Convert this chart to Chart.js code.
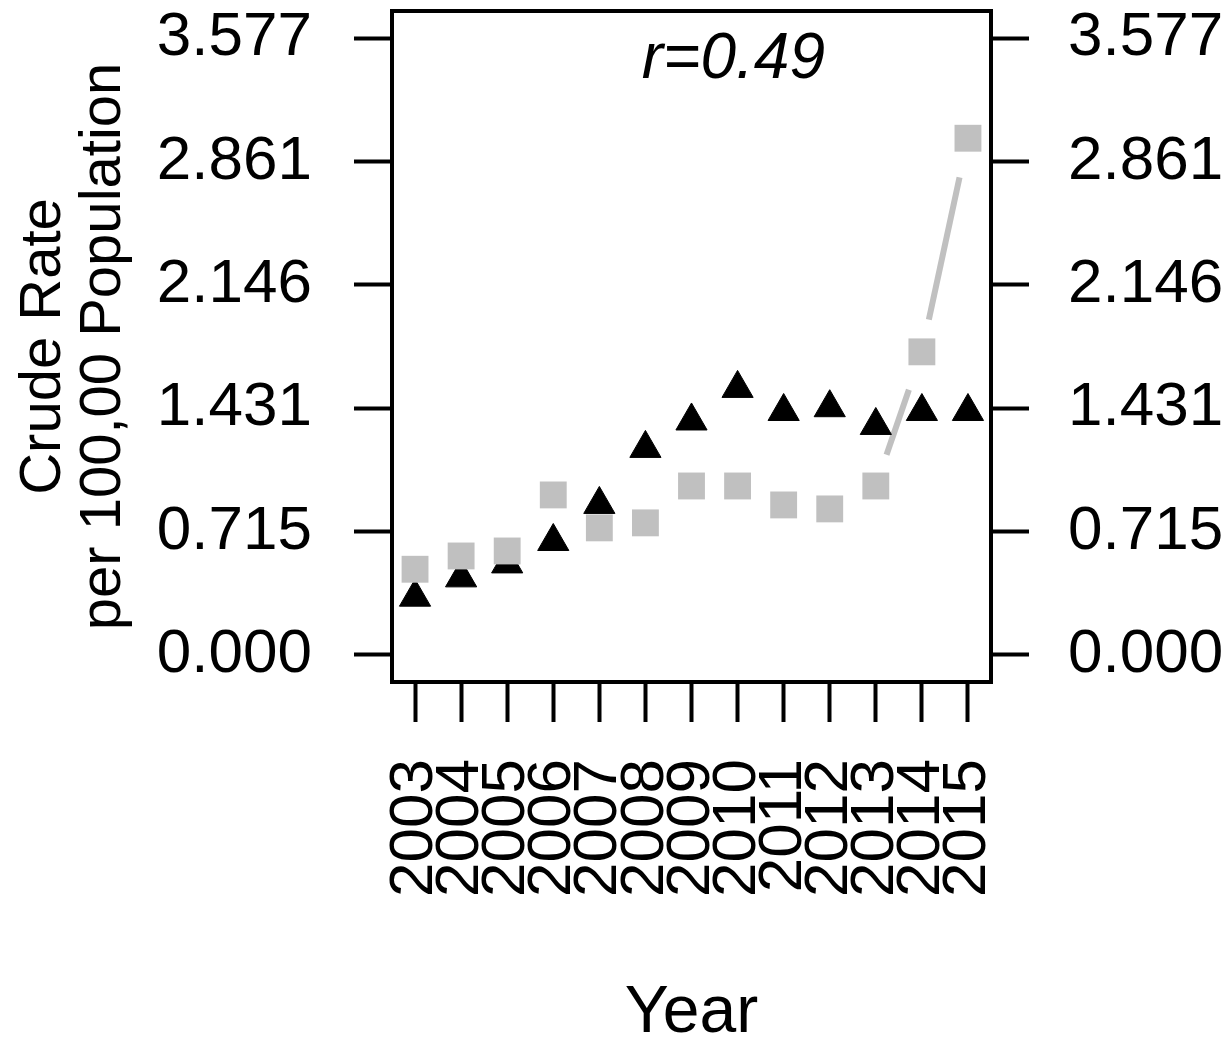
<!DOCTYPE html>
<html>
<head>
<meta charset="utf-8">
<title>Crude Rate by Year</title>
<script src="https://cdn.jsdelivr.net/npm/chart.js@4.4.1/dist/chart.umd.min.js"></script>
<style>
    html, body { margin: 0; padding: 0; background: #fff; }
    .wrap { width: 1232px; height: 1041px; position: relative; }
</style>
</head>
<body>
<div class="wrap">
    <canvas id="rate_chart"></canvas>
</div>
<script>
// years along the bottom axis
const years = ['2003', '2004', '2005', '2006', '2007', '2008', '2009',
               '2010', '2011', '2012', '2013', '2014', '2015'];

// black triangles
const triangleRates = [0.335, 0.447, 0.528, 0.658, 0.873, 1.198, 1.357,
                       1.546, 1.412, 1.434, 1.331, 1.412, 1.412];

// grey squares
const squareRates = [0.497, 0.574, 0.603, 0.928, 0.737, 0.766, 0.980,
                     0.980, 0.870, 0.847, 0.980, 1.758, 2.997];

// the grey line only joins the last few squares
const trendStart = 10;

const yTicks = [0, 0.715, 1.431, 2.146, 2.861, 3.577];
const yMin = -0.157;
const yMax = 3.735;

const corrLabel = 'r=0.49';

const FONT = '"Liberation Sans", Arial, sans-serif';
Chart.defaults.font.family = FONT;
Chart.defaults.color = '#000';

const trendRates = squareRates.map((v, i) => (i >= trendStart ? v : null));

// segments of the grey line stop short of the squares
const gapStart = 33;
const gapEnd = 40;
function segLength(c) {
    return Math.hypot(c.p1.x - c.p0.x, c.p1.y - c.p0.y);
}

// box round the plot + the correlation text
const framePlugin = {
    id: 'frame',
    afterDraw(chart) {
        const {ctx, chartArea: a} = chart;
        ctx.save();
        ctx.strokeStyle = '#000';
        ctx.lineWidth = 4;
        ctx.strokeRect(a.left, a.top, a.right - a.left, a.bottom - a.top);
        ctx.fillStyle = '#000';
        ctx.font = 'italic 64px ' + FONT;
        ctx.textAlign = 'center';
        ctx.textBaseline = 'alphabetic';
        ctx.fillText(corrLabel, a.left + (a.right - a.left) * 0.57, a.top + 67);
        ctx.restore();
    }
};

function yAxis(position, width, padding, showTitle) {
    return {
        type: 'linear',
        position: position,
        min: yMin,
        max: yMax,
        afterBuildTicks: (scale) => {
            scale.ticks = yTicks.map(v => ({value: v}));
        },
        afterFit: (scale) => {
            scale.width = width;
            // tick labels sit well inside the plot, no extra room needed
            scale.paddingTop = 0;
            scale.paddingBottom = 0;
        },
        ticks: {
            padding: padding,
            font: {size: 62, lineHeight: 1},
            color: '#000',
            callback: (v) => Number(v).toFixed(3)
        },
        grid: {
            drawOnChartArea: false,
            drawTicks: true,
            tickLength: 38,
            tickWidth: 4,
            tickColor: '#000'
        },
        border: {display: true, color: '#000', width: 4},
        title: {
            display: showTitle,
            text: ['Crude Rate', 'per 100,00 Population'],
            font: {size: 58, lineHeight: 1.035},
            color: '#000',
            padding: {top: 14, bottom: 0}
        }
    };
}

const ctx = document.getElementById('rate_chart');

new Chart(ctx, {
    type: 'line',
    data: {
        labels: years,
        datasets: [
            {
                label: 'Squares',
                data: squareRates,
                showLine: false,
                pointStyle: 'rect',
                pointRadius: 19,
                pointBorderWidth: 0,
                pointBackgroundColor: '#c0c0c0',
                pointBorderColor: '#c0c0c0',
                order: 0
            },
            {
                label: 'Triangles',
                data: triangleRates,
                showLine: false,
                pointStyle: 'triangle',
                pointRadius: 18,
                pointBorderWidth: 1,
                pointBackgroundColor: '#000',
                pointBorderColor: '#000',
                order: 1
            },
            {
                label: 'Trend',
                data: trendRates,
                pointRadius: 0,
                borderColor: '#c0c0c0',
                borderWidth: 6,
                borderCapStyle: 'butt',
                tension: 0,
                spanGaps: false,
                order: 2,
                segment: {
                    borderDash: (c) => {
                        const len = segLength(c);
                        return [Math.max(len - gapStart - gapEnd, 0), len + 100];
                    },
                    borderDashOffset: -gapStart
                }
            }
        ]
    },
    options: {
        responsive: true,
        maintainAspectRatio: false,
        animation: false,
        devicePixelRatio: 1,
        events: [],
        clip: false,
        layout: {
            autoPadding: false,
            padding: {top: 11, left: 0, right: 0, bottom: 0}
        },
        plugins: {
            legend: {display: false},
            tooltip: {enabled: false}
        },
        scales: {
            x: {
                type: 'category',
                position: 'bottom',
                offset: true,
                afterFit: (scale) => {
                    scale.height = 359;
                },
                ticks: {
                    autoSkip: false,
                    maxRotation: 90,
                    minRotation: 90,
                    padding: 37,
                    font: {size: 62, lineHeight: 1},
                    color: '#000'
                },
                grid: {
                    offset: false,
                    drawOnChartArea: false,
                    drawTicks: true,
                    tickLength: 40,
                    tickWidth: 4,
                    tickColor: '#000'
                },
                border: {display: true, color: '#000', width: 4},
                title: {
                    display: true,
                    text: 'Year',
                    font: {size: 66, lineHeight: 0.8},
                    color: '#000',
                    padding: {top: 0, bottom: 1}
                }
            },
            y: yAxis('left', 392, 42, true),
            y2: yAxis('right', 241, 39, false)
        }
    },
    plugins: [framePlugin]
});
</script>
</body>
</html>
